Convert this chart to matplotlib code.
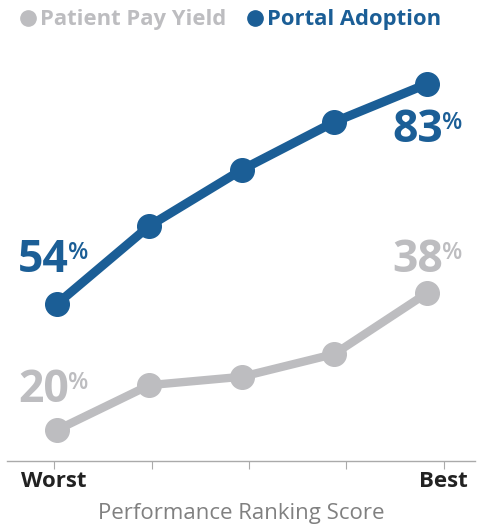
import matplotlib.pyplot as plt
from matplotlib.lines import Line2D
import numpy as np

plt.rcParams["font.family"] = ["Open Sans", "DejaVu Sans"]

# data
ranks = [0, 1, 2, 3, 4]
tick_labels = ["Worst", "", "", "", "Best"]
portal_adoption = [54, 64.3, 71.7, 78, 83]
patient_pay = [20, 25.9, 27, 30, 38]

BLUE = "#1b5e96"
GREY = "#bdbdc0"

fig = plt.figure(figsize=(4.79, 5.29), dpi=100)
ax = fig.add_axes([7 / 479, 68 / 529, 468 / 479, 421 / 529])
ax2 = ax.twinx()  # portal adoption has its own scale

ax.plot(ranks, patient_pay, color=GREY, lw=6, marker="o", ms=17,
        solid_capstyle="butt", zorder=2)
ax2.plot(ranks, portal_adoption, color=BLUE, lw=6.5, marker="o", ms=17,
         solid_capstyle="butt", zorder=3)

ax.set_xlim(-0.54, 4.52)
ax.set_ylim(15.92, 71.3)
ax2.set_ylim(33.3, 88.8)


def pct_label(a, x, y, value, color, dx, dy):
    a.annotate(f"{value:.0f}", (x, y), xytext=(dx, dy), textcoords="offset pixels",
               ha="right", va="baseline", fontsize=32, fontweight="bold", color=color)
    a.annotate("%", (x, y), xytext=(dx - 1, dy + 13), textcoords="offset pixels",
               ha="left", va="baseline", fontsize=17, fontweight="semibold", color=color)


pct_label(ax2, ranks[0], portal_adoption[0], portal_adoption[0], BLUE, 12, 32)
pct_label(ax2, ranks[-1], portal_adoption[-1], portal_adoption[-1], BLUE, 16, -58)
pct_label(ax, ranks[0], patient_pay[0], patient_pay[0], GREY, 12, 28)
pct_label(ax, ranks[-1], patient_pay[-1], patient_pay[-1], GREY, 16, 21)

# axis styling
for a in [ax, ax2]:
    for side in ["top", "right", "left"]:
        a.spines[side].set_visible(False)
    a.set_yticks([])
ax2.spines["bottom"].set_visible(False)
ax.spines["bottom"].set_color("#aaaaaa")
ax.spines["bottom"].set_linewidth(1)
ax.set_xticks(np.linspace(-0.03, 4.18, 5))
ax.set_xticklabels(tick_labels, fontsize=16, fontweight="bold", color="#222222")
ax.tick_params(axis="x", length=6, color="#aaaaaa", pad=1)
ax.set_xlabel("Performance Ranking Score", fontsize=16, fontweight="medium",
              color="#808080", labelpad=8)

# legend
handles = [
    Line2D([], [], ls="none", marker="o", ms=11, color=GREY),
    Line2D([], [], ls="none", marker="o", ms=11, color=BLUE),
]
leg = ax2.legend(handles, ["Patient Pay Yield", "Portal Adoption"], ncol=2,
                 loc="upper left", bbox_to_anchor=(-0.02, 1.12), frameon=False,
                 handletextpad=0.05, columnspacing=0.8, handlelength=1.0,
                 prop={"weight": "bold", "size": 15.8})
for txt, c in zip(leg.get_texts(), [GREY, BLUE]):
    txt.set_color(c)

fig.savefig("out.png", dpi=100)
